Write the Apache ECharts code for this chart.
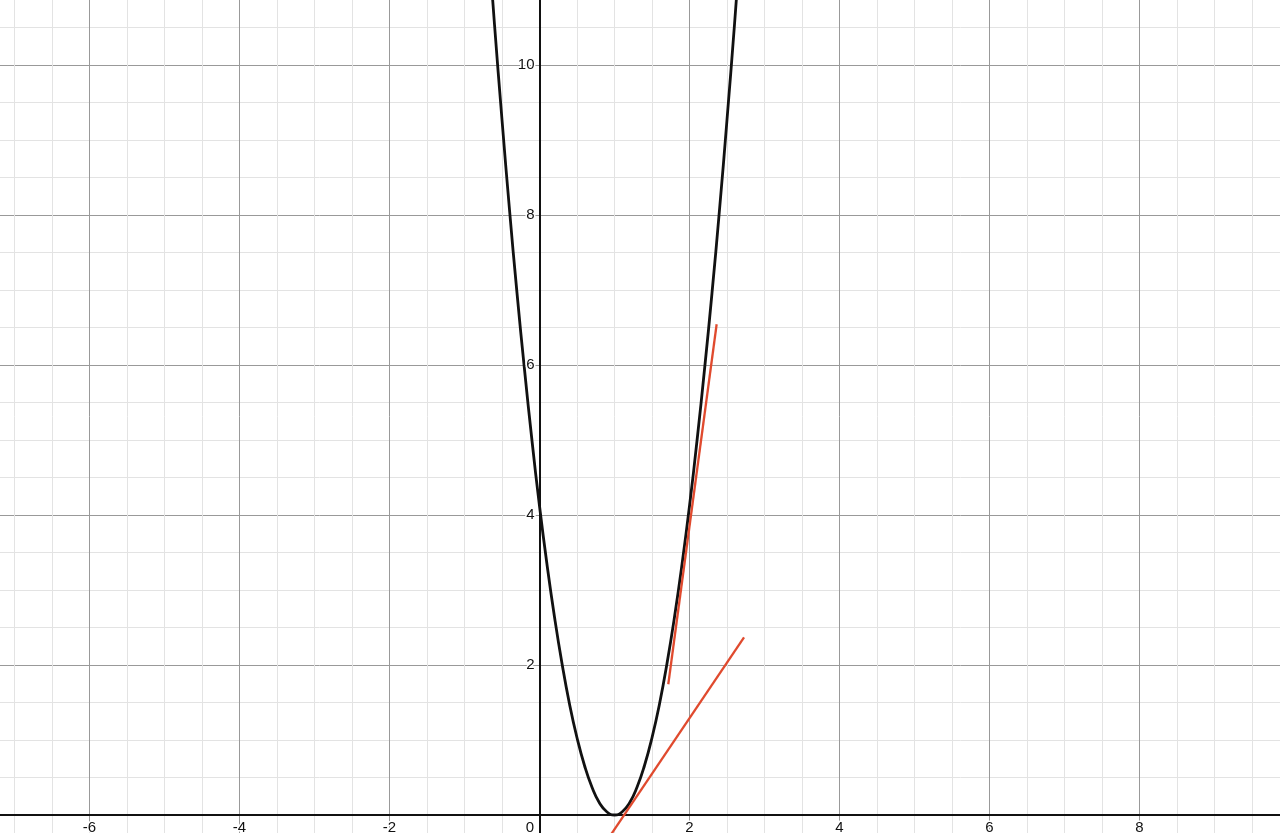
<!DOCTYPE html>
<html>
<head>
<meta charset="utf-8">
<script src="https://cdn.jsdelivr.net/npm/echarts@6/dist/echarts.min.js"></script>
<style>
html,body{margin:0;padding:0;background:#fff;}
#chart{width:1280px;height:833px;}
</style>
</head>
<body>
<div id="chart"></div>
<script>
// Parabola points (vertex near x=1)
const curveX = [-0.7,-0.6,-0.5,-0.4,-0.3,-0.2,-0.1,0,0.1,0.2,0.3,0.4,0.5,0.6,0.7,0.8,0.9,1.0,1.1,1.2,1.3,1.4,1.5,1.6,1.7,1.8,1.9,2.0,2.1,2.2,2.3,2.4,2.5,2.6,2.7];
const curveY = [11.89,10.54,9.27,8.07,6.96,5.94,4.99,4.12,3.34,2.64,2.02,1.48,1.03,0.66,0.37,0.16,0.04,0,0.04,0.16,0.37,0.66,1.03,1.48,2.02,2.64,3.34,4.12,4.99,5.94,6.96,8.07,9.27,10.54,11.89];
// Red line segments (end points)
const steepX = [1.717, 2.362];
const steepY = [1.743, 6.543];
const shallowX = [0.94, 2.727];
const shallowY = [-0.28, 2.369];
// Axis ranges and tick steps
const xRange = [-8, 10];
const yRange = [-2, 12];
const majorStep = 2;

const zip = (xs, ys) => xs.map((x, i) => [x, ys[i]]);

const FONT = 'Liberation Sans, Arial, sans-serif';
const labelFont = {
  color: '#111', fontSize: 15, fontFamily: FONT,
  textBorderColor: '#fff', textBorderWidth: 3
};
const hidden = {show: false};
const mainH = {left: -60.5, right: -9.5};
const mainV = {top: -85, bottom: -132};

const chart = echarts.init(document.getElementById('chart'), null, {renderer: 'canvas'});
chart.setOption({
  animation: false,
  backgroundColor: '#fff',
  grid: [
    Object.assign({outerBoundsMode: 'none', containLabel: false}, mainH, mainV),
    // label strip for x labels: bottom edge on y = 0
    Object.assign({outerBoundsMode: 'none', containLabel: false, top: 0, bottom: 18}, mainH),
    // label strip for y labels: left edge on x = 0
    Object.assign({outerBoundsMode: 'none', containLabel: false, left: 539.5, right: 0}, mainV)
  ],
  xAxis: [
    {
      gridIndex: 0, type: 'value', min: xRange[0], max: xRange[1], interval: majorStep,
      axisLine: {show: true, onZero: true, lineStyle: {color: '#111', width: 2}},
      axisTick: hidden, axisLabel: hidden,
      splitLine: {show: true, lineStyle: {color: '#999', width: 1}},
      minorTick: {show: false, splitNumber: 4},
      minorSplitLine: {show: true, lineStyle: {color: '#e3e3e3', width: 1}},
      z: 3
    },
    {
      gridIndex: 1, type: 'value', position: 'bottom', min: xRange[0], max: xRange[1], interval: majorStep,
      axisLine: {show: false, onZero: false}, axisTick: hidden, splitLine: hidden,
      axisLabel: Object.assign({
        margin: 5,
        formatter: v => v === 0 ? '{z|0}' : String(v),
        rich: {z: {padding: [0, 19, 0, 0], color: '#111', fontSize: 15, fontFamily: FONT}}
      }, labelFont),
      z: 6
    },
    {gridIndex: 2, type: 'value', min: 0, max: 1, show: false}
  ],
  yAxis: [
    {
      gridIndex: 0, type: 'value', min: yRange[0], max: yRange[1], interval: majorStep,
      axisLine: {show: true, onZero: true, lineStyle: {color: '#111', width: 2}},
      axisTick: hidden, axisLabel: hidden,
      splitLine: {show: true, lineStyle: {color: '#999', width: 1}},
      minorTick: {show: false, splitNumber: 4},
      minorSplitLine: {show: true, lineStyle: {color: '#e3e3e3', width: 1}},
      z: 3
    },
    {gridIndex: 1, type: 'value', min: 0, max: 1, show: false},
    {
      gridIndex: 2, type: 'value', position: 'left', min: yRange[0], max: yRange[1], interval: majorStep,
      axisLine: {show: false, onZero: false}, axisTick: hidden, splitLine: hidden,
      axisLabel: Object.assign({
        margin: 5,
        formatter: v => v === 0 ? '' : String(v)
      }, labelFont),
      z: 6
    }
  ],
  series: [
    {
      type: 'line', xAxisIndex: 0, yAxisIndex: 0, data: zip(curveX, curveY), smooth: true, showSymbol: false,
      lineStyle: {color: '#111', width: 2.8}, clip: true, z: 4
    },
    {
      type: 'line', xAxisIndex: 0, yAxisIndex: 0, data: zip(steepX, steepY), showSymbol: false,
      lineStyle: {color: '#e04a2e', width: 2.3}, clip: true, z: 5
    },
    {
      type: 'line', xAxisIndex: 0, yAxisIndex: 0, data: zip(shallowX, shallowY), showSymbol: false,
      lineStyle: {color: '#e04a2e', width: 2.3}, clip: true, z: 5
    }
  ]
});
</script>
</body>
</html>
